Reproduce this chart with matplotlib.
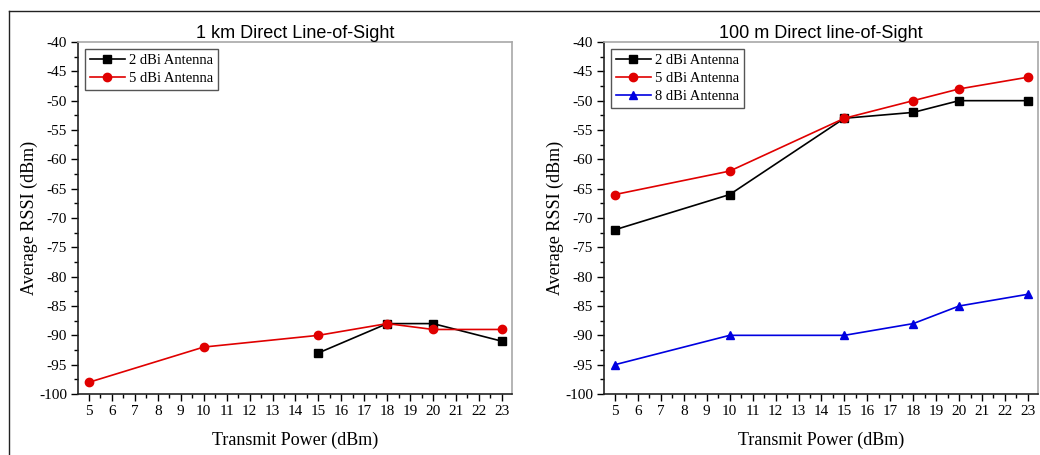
import matplotlib
matplotlib.use("Agg")
import matplotlib.pyplot as plt
from matplotlib.lines import Line2D
from matplotlib.ticker import MultipleLocator

# ---------- data ----------
power_all = [5, 10, 15, 18, 20, 23]
power_2dbi_1km = [15, 18, 20, 23]

rssi_1km_2dbi = [-93, -88, -88, -91]
rssi_1km_5dbi = [-98, -92, -90, -88, -89, -89]

rssi_100m_2dbi = [-72, -66, -53, -52, -50, -50]
rssi_100m_5dbi = [-66, -62, -53, -50, -48, -46]
rssi_100m_8dbi = [-95, -90, -90, -88, -85, -83]

titles = ["1 km Direct Line-of-Sight", "100 m Direct line-of-Sight"]

SERIF = "Liberation Serif"
SANS = "Liberation Sans"
GREY = "#a8a8a8"

plt.rcParams["axes.unicode_minus"] = False

fig = plt.figure(figsize=(10.4, 4.55), dpi=100)

# outer frame (left + top edges visible only)
fig.add_artist(Line2D([9/1040, 9/1040], [0, 1 - 10.5/455], color="#222222", lw=1.0,
                      transform=fig.transFigure))
fig.add_artist(Line2D([9/1040, 1], [1 - 10.5/455, 1 - 10.5/455], color="#222222", lw=1.0,
                      transform=fig.transFigure))

ax1 = fig.add_axes([78/1040, 1 - 394/455, 434/1040, 352/455])
ax2 = fig.add_axes([604/1040, 1 - 394/455, 434/1040, 352/455])


def style(ax, title):
    ax.set_xlim(4.52, 23.44)
    ax.set_ylim(-100, -40)
    ax.xaxis.set_major_locator(MultipleLocator(1))
    ax.xaxis.set_minor_locator(MultipleLocator(0.5))
    ax.yaxis.set_major_locator(MultipleLocator(5))
    ax.yaxis.set_minor_locator(MultipleLocator(2.5))
    ax.tick_params(which="major", direction="out", length=5, width=1, labelsize=11, pad=3)
    ax.tick_params(which="minor", direction="out", length=3, width=1)
    for lab in ax.get_xticklabels() + ax.get_yticklabels():
        lab.set_fontfamily(SERIF)
    for s in ["top", "right"]:
        ax.spines[s].set_color(GREY)
        ax.spines[s].set_linewidth(1.2)
    for s in ["left", "bottom"]:
        ax.spines[s].set_color("#222222")
        ax.spines[s].set_linewidth(1.2)
    ax.set_title(title, fontfamily=SANS, fontsize=13, pad=2)
    ax.set_xlabel("Transmit Power (dBm)", fontfamily=SERIF, fontsize=13, labelpad=10)
    ax.set_ylabel("Average RSSI (dBm)", fontfamily=SERIF, fontsize=13, labelpad=1)


kw = dict(lw=1.2, markersize=6)

# ---------- left: 1 km ----------
ax1.plot(power_2dbi_1km, rssi_1km_2dbi, color="black", marker="s", label="2 dBi Antenna", **kw)
ax1.plot(power_all, rssi_1km_5dbi, color="#e00000", marker="o", label="5 dBi Antenna", **kw)
style(ax1, titles[0])

# ---------- right: 100 m ----------
ax2.plot(power_all, rssi_100m_2dbi, color="black", marker="s", label="2 dBi Antenna", **kw)
ax2.plot(power_all, rssi_100m_5dbi, color="#e00000", marker="o", label="5 dBi Antenna", **kw)
ax2.plot(power_all, rssi_100m_8dbi, color="#0000e0", marker="^", label="8 dBi Antenna", **kw)
style(ax2, titles[1])

for ax in (ax1, ax2):
    leg = ax.legend(loc="upper left", prop={"family": SERIF, "size": 10.5}, fancybox=False,
                    framealpha=1, edgecolor="#555555", borderpad=0.35, labelspacing=0.32,
                    handlelength=2.4, handletextpad=0.3, borderaxespad=0.45)
    leg.get_frame().set_linewidth(1.0)

fig.savefig("out.png", dpi=100)
